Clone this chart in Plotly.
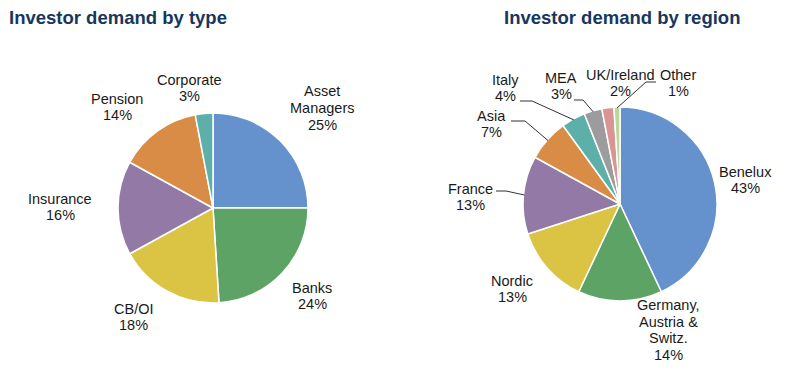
import math
import plotly.graph_objects as go

# ---- data ----
type_labels = ["Asset<br>Managers", "Banks", "CB/OI", "Insurance", "Pension", "Corporate"]
type_values = [25, 24, 18, 16, 14, 3]
type_colors = ["#6592CD", "#5DA365", "#DBC344", "#9379A5", "#D98C46", "#5DAFA9"]

region_labels = ["Benelux", "Germany,<br>Austria &<br>Switz.", "Nordic", "France", "Asia",
                 "Italy", "MEA", "UK/Ireland", "Other"]
region_values = [43, 14, 13, 13, 7, 4, 3, 2, 1]
region_colors = ["#6592CD", "#5DA365", "#DBC344", "#9379A5", "#D98C46", "#5DAFA9",
                 "#9C9C9C", "#D99594", "#B9D79C"]

W, H = 800, 383
# pie geometry (pixels)
L_C, L_R = (213, 208), 95
R_C, R_R = (620, 204), 97

# label text centres (pixels)
type_label_pos = [(322, 108), (312, 296), (133, 317), (60, 207), (117, 107), (189, 88)]
region_label_pos = [(745, 180), (668, 330), (512, 289), (470, 197), (491, 124),
                    (505, 88), (561, 86), (620, 83), (678, 83)]
# leader line label-side anchor and knee (pixels); None = no leader
region_leaders = [None, None, None, ((496, 191), (506, 191)), ((511, 121), (525, 121)),
                  ((520, 101), (532, 101)), ((574, 100), (583, 100)), None,
                  ((656, 82), (646, 82))]
LINE_H = 16.8


def domain(c, r):
    return dict(x=[(c[0] - r) / W, (c[0] + r) / W],
                y=[1 - (c[1] + r) / H, 1 - (c[1] - r) / H])


def mid_point(values, i, c, r):
    tot = sum(values)
    start = sum(values[:i]) / tot * 360
    ang = math.radians(start + values[i] / tot * 180)
    return c[0] + r * math.sin(ang), c[1] - r * math.cos(ang)


fig = go.Figure()
fig.add_trace(go.Pie(labels=[l.replace("<br>", " ") for l in type_labels], values=type_values,
                     sort=False, direction="clockwise", rotation=0,
                     marker=dict(colors=type_colors, line=dict(color="white", width=1.5)),
                     textinfo="none", domain=domain(L_C, L_R), showlegend=False))
fig.add_trace(go.Pie(labels=[l.replace("<br>", " ") for l in region_labels], values=region_values,
                     sort=False, direction="clockwise", rotation=0,
                     marker=dict(colors=region_colors, line=dict(color="white", width=1.5)),
                     textinfo="none", domain=domain(R_C, R_R), showlegend=False))

ann = []
font = dict(family="Liberation Sans, Arial", size=14.5, color="#1a1a1a")


def add_label(lab, v, x, y):
    lines = lab.split("<br>") + [f"{v}%"]
    n = len(lines)
    for k, t in enumerate(lines):
        yy = y + (k - (n - 1) / 2) * LINE_H
        ann.append(dict(x=x, y=yy, xref="x", yref="y", text=t, showarrow=False,
                        font=font, xanchor="center", yanchor="middle"))


for lab, v, (x, y) in zip(type_labels, type_values, type_label_pos):
    add_label(lab, v, x, y)
for lab, v, (x, y) in zip(region_labels, region_values, region_label_pos):
    add_label(lab, v, x, y)

title_font = dict(family="Liberation Sans, Arial", size=18.5, color="#17375E")
ann.append(dict(x=7, y=17, xref="x", yref="y", text="<b>Investor demand by type</b>",
                showarrow=False, font=title_font, xanchor="left", yanchor="middle"))
ann.append(dict(x=622, y=17, xref="x", yref="y", text="<b>Investor demand by region</b>",
                showarrow=False, font=title_font, xanchor="center", yanchor="middle"))

shapes = []
for i, ld in enumerate(region_leaders):
    if ld is None:
        continue
    (ax, ay), (kx, ky) = ld
    ex, ey = mid_point(region_values, i, R_C, R_R - 1)
    shapes.append(dict(type="path", xref="x", yref="y",
                       path=f"M {ax},{ay} L {kx},{ky} L {ex:.1f},{ey:.1f}",
                       line=dict(color="#333333", width=1)))

fig.update_layout(
    width=W, height=H, margin=dict(l=0, r=0, t=0, b=0),
    paper_bgcolor="white", plot_bgcolor="rgba(0,0,0,0)",
    xaxis=dict(range=[0, W], visible=False, domain=[0, 1], fixedrange=True),
    yaxis=dict(range=[H, 0], visible=False, domain=[0, 1], fixedrange=True),
    annotations=ann, shapes=shapes,
)
fig.write_html("out.html", post_script="document.body.style.margin='0';",
               config={"displayModeBar": False})
